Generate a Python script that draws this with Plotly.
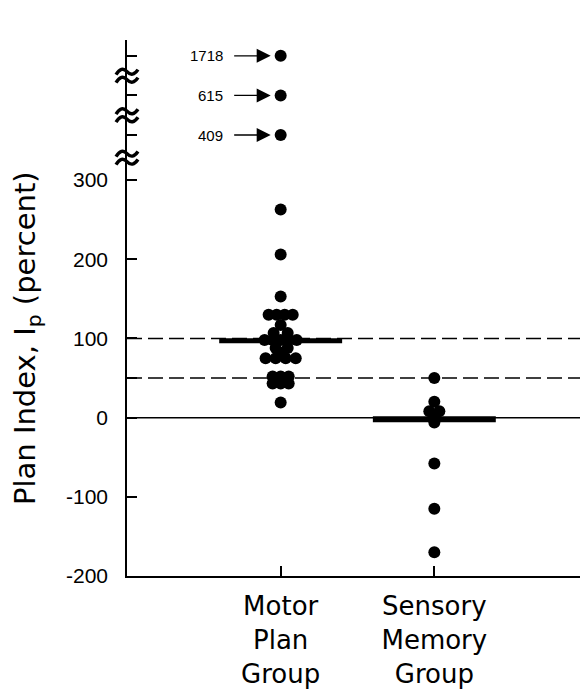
import plotly.graph_objects as go

# data (percent)
groups = ["Motor<br>Plan<br>Group", "Sensory<br>Memory<br>Group"]

motor_vals = [263, 206, 153, 130, 130, 130, 130, 117, 107, 107,
              98, 98, 98, 98, 98, 88, 88, 82, 75, 75, 75, 75,
              52, 52, 52, 43, 43, 43, 19]
motor_spread = [0, 0, 0, -12, -4, 4, 12, 0, -7, 7,
                -16, -8, 0, 8, 16, -5, 7, 0, -15, -5, 5, 15,
                -8, 0, 8, -8, 0, 8, 0]
motor_outliers = [409, 615, 1718]
motor_median = 97

sensory_vals = [50, 20, 8, 8, 3, -6, -58, -115, -170]
sensory_spread = [0, 0, -5, 5, 0, 0, 0, 0, 0]
sensory_median = -2

y_ticks = [-200, -100, 0, 50, 100, 200, 300]
y_ticklabels = ["-200", "-100", "0", "", "100", "200", "300"]
ref_lines = [100, 50]

# broken axis above 300: each outlier gets its own slot
brk_base, brk_step = 307, 50
brk_pos = [brk_base + brk_step * (i + 1) for i in range(len(motor_outliers))]
edges = [300] + brk_pos
brk_marks = [(a + b) / 2 for a, b in zip(edges[:-1], edges[1:])]

px_per_unit = 153.0  # x pixels per category unit
def spread(cat, offs):
    return [cat + o / px_per_unit for o in offs]

fig = go.Figure()

dot = dict(color="black", size=12)
fig.add_trace(go.Scatter(x=spread(1, motor_spread), y=motor_vals, mode="markers", marker=dot))
fig.add_trace(go.Scatter(x=[1] * len(motor_outliers), y=brk_pos, mode="markers", marker=dot))
fig.add_trace(go.Scatter(x=spread(2, sensory_spread), y=sensory_vals, mode="markers", marker=dot))

# medians
fig.add_trace(go.Scatter(x=[0.6, 1.4], y=[motor_median] * 2, mode="lines",
                         line=dict(color="black", width=5)))
fig.add_trace(go.Scatter(x=[1.6, 2.4], y=[sensory_median] * 2, mode="lines",
                         line=dict(color="black", width=6)))

for v in ref_lines:
    fig.add_hline(y=v, line=dict(color="black", width=1.5, dash="15px,6px"), layer="below")
fig.add_hline(y=0, line=dict(color="black", width=1.5), layer="below")

# outlier arrows + labels
for v, p in zip(motor_outliers, brk_pos):
    fig.add_annotation(x=1, y=p, text="", showarrow=True, ax=-48, ay=0,
                       arrowhead=2, arrowsize=2, arrowwidth=1.4, standoff=10,
                       arrowcolor="black")
    fig.add_annotation(x=1, y=p, text=str(v), showarrow=False, xanchor="right",
                       xshift=-56, font=dict(size=15, color="black"))

# axis break marks (double tilde across the y axis)
tilde = "M-11,1 Q-5.5,10 0,4 T11,6 M-11,-7 Q-5.5,2 0,-4 T11,-2"
for s in brk_marks:
    fig.add_shape(type="path", xref="paper", yref="y",
                  xsizemode="pixel", ysizemode="pixel", xanchor=0, yanchor=s,
                  path=tilde, line=dict(color="black", width=3.4))

fig.add_annotation(xref="paper", yref="paper", x=-0.217, y=0.444,
                   xanchor="center", yanchor="middle",
                   text="Plan Index, I<sub>p</sub> (percent)", textangle=-90,
                   showarrow=False, font=dict(size=29, color="black",
                                              family="DejaVu Sans"))

all_ticks = y_ticks + brk_pos
all_labels = y_ticklabels + [""] * len(brk_pos)

fig.update_layout(
    width=580, height=681,
    margin=dict(l=119, r=0, t=32, b=111),
    plot_bgcolor="white", paper_bgcolor="white",
    showlegend=False,
    font=dict(family="Liberation Sans, Arial", color="black"),
    xaxis=dict(range=[0, 3], tickvals=[1, 2], ticktext=groups,
               ticks="inside", ticklen=10, tickwidth=1.5, tickcolor="black",
               showline=True, linecolor="black", linewidth=1.5,
               showgrid=False, zeroline=False,
               tickfont=dict(size=26, family="DejaVu Sans"), ticklabelstandoff=6),
    yaxis=dict(range=[-200, 477], tickvals=all_ticks, ticktext=all_labels,
               ticks="inside", ticklen=10, tickwidth=1.5, tickcolor="black",
               showline=True, linecolor="black", linewidth=1.5,
               showgrid=False, zeroline=False,
               tickfont=dict(size=21), ticklabelstandoff=13),
    yaxis2=dict(range=[-200, 477], overlaying="y", side="right",
                tickvals=[-100, 0, 50, 100, 200, 300], showticklabels=False,
                ticks="inside", ticklen=8, tickwidth=1.5, tickcolor="black",
                showline=False, showgrid=False, zeroline=False),
)
fig.add_trace(go.Scatter(x=[None], y=[None], yaxis="y2"))

fig.write_html("out.html")
